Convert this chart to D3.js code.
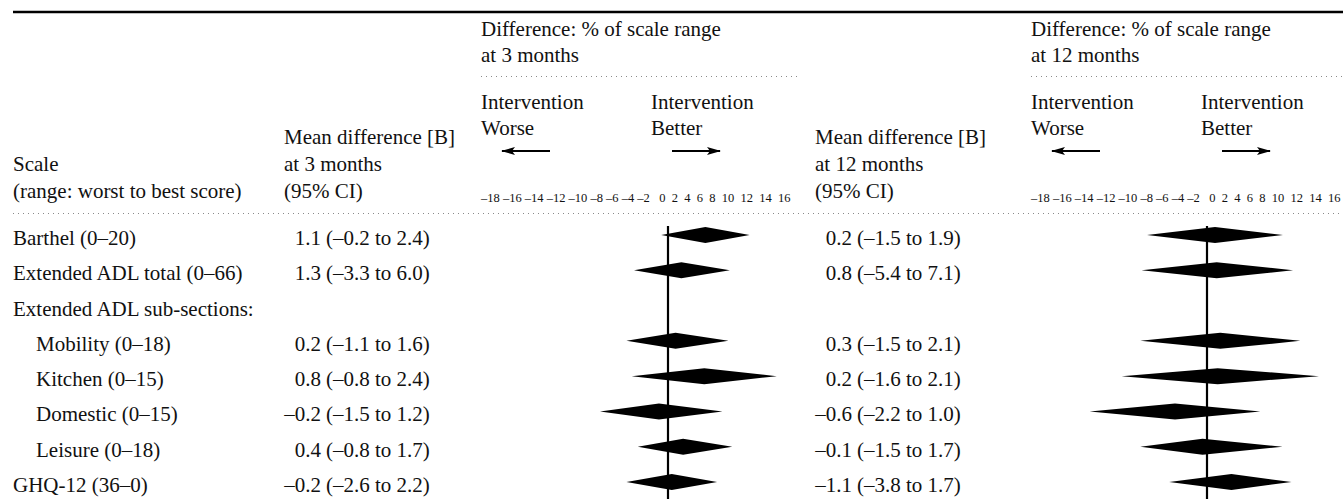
<!DOCTYPE html>
<meta charset="utf-8">
<style>
    body { margin: 0; background: #fff; }
    text { font-family: 'Liberation Serif', 'Times New Roman', serif; fill: #111; }
    .cell { font-size: 21px; }
    .tick-row { font-size: 12.5px; }
    .rule { stroke: #000; stroke-width: 2.4px; }
    .dots { stroke: #8a8a8a; stroke-width: 1px; stroke-dasharray: 1 4; }
    .zero { stroke: #000; stroke-width: 2.2px; }
    .arrow { stroke: #000; stroke-width: 2.2px; }
    .diamond { fill: #000; }
</style>
<body>
<div id="chart"></div>
<script src="https://cdn.jsdelivr.net/npm/d3@7"></script>
<script>
    var width = 1343,
        height = 499;

    // table rows
    var rowLabels = ["Barthel (0–20)", "Extended ADL total (0–66)", "Extended ADL sub-sections:",
                     "Mobility (0–18)", "Kitchen (0–15)", "Domestic (0–15)", "Leisure (0–18)", "GHQ-12 (36–0)"];
    var rowIndent = [0, 0, 0, 1, 1, 1, 1, 0];
    var scaleWorst = [0, 0, null, 0, 0, 0, 0, 36];
    var scaleBest  = [20, 66, null, 18, 15, 15, 18, 0];

    var mean3 = [1.1, 1.3, null, 0.2, 0.8, -0.2, 0.4, -0.2];
    var lo3   = [-0.2, -3.3, null, -1.1, -0.8, -1.5, -0.8, -2.6];
    var hi3   = [2.4, 6.0, null, 1.6, 2.4, 1.2, 1.7, 2.2];

    var mean12 = [0.2, 0.8, null, 0.3, 0.2, -0.6, -0.1, -1.1];
    var lo12   = [-1.5, -5.4, null, -1.5, -1.6, -2.2, -1.5, -3.8];
    var hi12   = [1.9, 7.1, null, 2.1, 2.1, 1.0, 1.7, 1.7];

    var tickLabels = [-18, -16, -14, -12, -10, -8, -6, -4, -2, 0, 2, 4, 6, 8, 10, 12, 14, 16];

    var rows = rowLabels.map((label, i) => ({
        label: label,
        indent: rowIndent[i],
        span: scaleBest[i] == null ? null : scaleBest[i] - scaleWorst[i],
        m3: mean3[i], lo3: lo3[i], hi3: hi3[i],
        m12: mean12[i], lo12: lo12[i], hi12: hi12[i]
    }));

    var num = v => (v < 0 ? "–" : "") + d3.format(".1f")(Math.abs(v));

    var svg = d3.select("#chart").append("svg")
        .attr("width", width)
        .attr("height", height);

    var y = d3.scalePoint()
        .domain(d3.range(rows.length))
        .range([245, 492]);

    var x3 = d3.scaleLinear().domain([0, 10]).range([668, 736]);
    var x12 = d3.scaleLinear().domain([0, 10]).range([1207, 1287]);

    var panels = [
        {left: 481, col: 284, when: "at 3 months", m: "m3", lo: "lo3", hi: "hi3", x: x3},
        {left: 1031, col: 815, when: "at 12 months", m: "m12", lo: "lo12", hi: "hi12", x: x12}
    ];

    // rules
    svg.append("line").attr("class", "rule")
        .attr("x1", 13).attr("x2", width).attr("y1", 12).attr("y2", 12);
    svg.append("line").attr("class", "dots")
        .attr("x1", 13).attr("x2", width).attr("y1", 213.5).attr("y2", 213.5);

    // header, first column
    svg.append("text").attr("class", "cell").attr("x", 13).attr("y", 171).text("Scale");
    svg.append("text").attr("class", "cell").attr("x", 13).attr("y", 198).text("(range: worst to best score)");

    svg.append("defs").append("marker")
        .attr("id", "head")
        .attr("markerUnits", "userSpaceOnUse")
        .attr("viewBox", "0 0 14 8")
        .attr("refX", 13).attr("refY", 4)
        .attr("markerWidth", 14).attr("markerHeight", 8)
        .attr("orient", "auto")
        .append("path")
        .attr("d", "M0,0 L14,4 L0,8 L3,4 Z")
        .attr("fill", "#000");

    panels.forEach(p => {
        var g = svg.append("g");

        ["Mean difference [B]", p.when, "(95% CI)"].forEach((t, i) => {
            g.append("text").attr("class", "cell")
                .attr("x", p.col).attr("y", 144 + 27 * i).text(t);
        });

        g.append("text").attr("class", "cell").attr("x", p.left).attr("y", 36).text("Difference: % of scale range");
        g.append("text").attr("class", "cell").attr("x", p.left).attr("y", 62).text(p.when);
        g.append("line").attr("class", "dots")
            .attr("x1", p.left).attr("x2", Math.min(width, p.left + 320))
            .attr("y1", 76.5).attr("y2", 76.5);

        g.append("text").attr("class", "cell").attr("x", p.left).attr("y", 109).text("Intervention");
        g.append("text").attr("class", "cell").attr("x", p.left).attr("y", 135).text("Worse");
        g.append("text").attr("class", "cell").attr("x", p.left + 170).attr("y", 109).text("Intervention");
        g.append("text").attr("class", "cell").attr("x", p.left + 170).attr("y", 135).text("Better");

        g.append("line").attr("class", "arrow")
            .attr("x1", p.left + 69).attr("x2", p.left + 21)
            .attr("y1", 151).attr("y2", 151)
            .attr("marker-end", "url(#head)");
        g.append("line").attr("class", "arrow")
            .attr("x1", p.left + 191).attr("x2", p.left + 239)
            .attr("y1", 151).attr("y2", 151)
            .attr("marker-end", "url(#head)");

        var neg = tickLabels.filter(v => v < 0).map(num).map(s => s.replace(".0", "")),
            pos = tickLabels.filter(v => v >= 0).map(String);
        g.append("text").attr("class", "tick-row")
            .attr("x", p.left).attr("y", 202)
            .text(neg.join("\u00A0") + "\u00A0\u00A0\u00A0" + pos.join("\u00A0\u00A0"));

        // values column
        var vals = g.selectAll(".val")
            .data(rows.filter(d => d.span != null))
            .enter();
        vals.append("text").attr("class", "cell")
            .attr("x", p.col + 37)
            .attr("y", d => y(rows.indexOf(d)))
            .attr("text-anchor", "end")
            .text(d => num(d[p.m]));
        vals.append("text").attr("class", "cell")
            .attr("x", p.col + 42)
            .attr("y", d => y(rows.indexOf(d)))
            .text(d => "(" + num(d[p.lo]) + " to " + num(d[p.hi]) + ")");

        // zero line
        g.append("line").attr("class", "zero")
            .attr("x1", p.x(0)).attr("x2", p.x(0))
            .attr("y1", 226).attr("y2", height);

        // diamonds, in % of the scale range
        g.selectAll(".diamond")
            .data(rows.filter(d => d.span != null))
            .enter().append("path")
            .attr("class", "diamond")
            .attr("d", d => {
                var c = d[p.m] / d.span * 100,
                    a = d[p.lo] / d.span * 100,
                    b = d[p.hi] / d.span * 100,
                    yc = y(rows.indexOf(d)) - 10;
                return "M" + p.x(Math.min(a, b)) + "," + yc +
                       "L" + p.x(c) + "," + (yc - 8) +
                       "L" + p.x(Math.max(a, b)) + "," + yc +
                       "L" + p.x(c) + "," + (yc + 8) + "Z";
            });
    });

    // row labels
    svg.selectAll(".row-label")
        .data(rows)
        .enter().append("text")
        .attr("class", "cell row-label")
        .attr("x", d => 13 + 23 * d.indent)
        .attr("y", (d, i) => y(i))
        .text(d => d.label);
</script>
